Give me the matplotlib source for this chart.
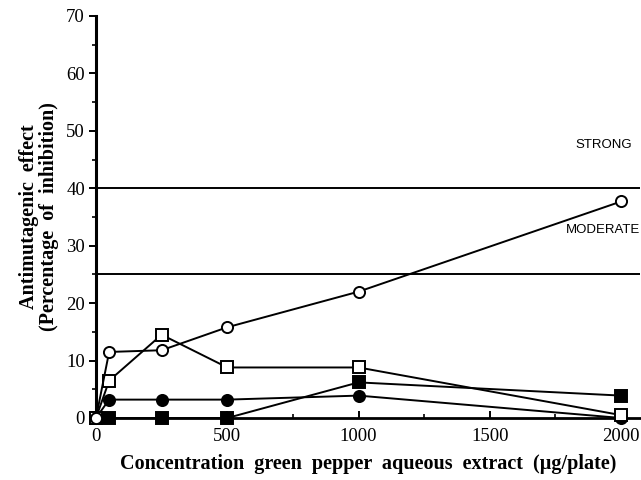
import matplotlib
matplotlib.use("Agg")
import matplotlib.pyplot as plt
from matplotlib.ticker import MultipleLocator

conc = [0, 50, 250, 500, 1000, 2000]
open_circle = [0, 11.5, 11.8, 15.8, 22.0, 37.7]
open_square = [0, 6.5, 14.5, 8.8, 8.8, 0.5]
filled_circle = [0, 3.2, 3.2, 3.2, 3.9, 0.0]
filled_square = [0, 0, 0, 0, 6.2, 3.9]
thresholds = [25, 40]

fig = plt.figure(figsize=(6.41, 4.8), dpi=100)
ax = fig.add_axes([96/641, 1-418/480, (640-96)/641, (418-16)/480])

serif = ["Liberation Serif", "DejaVu Serif"]
sans = ["Liberation Sans", "DejaVu Sans"]

for t in thresholds:
    ax.axhline(t, color="black", lw=1.4, zorder=1)

kw = dict(color="black", lw=1.4, markersize=8, markeredgewidth=1.4, clip_on=False)
ax.plot(conc, filled_square, marker="s", markerfacecolor="black", zorder=3, **kw)
ax.plot(conc, filled_circle, marker="o", markerfacecolor="black", zorder=3, **kw)
ax.plot(conc, open_square, marker="s", markerfacecolor="white", zorder=4, **kw)
ax.plot(conc, open_circle, marker="o", markerfacecolor="white", zorder=4, **kw)

ax.set_xlim(0, 2072)
ax.set_ylim(0, 70)
ax.spines["top"].set_visible(False)
ax.spines["right"].set_visible(False)
ax.spines["left"].set_linewidth(2.2)
ax.spines["bottom"].set_linewidth(2.0)

ax.xaxis.set_major_locator(MultipleLocator(500))
ax.xaxis.set_minor_locator(MultipleLocator(250))
ax.yaxis.set_major_locator(MultipleLocator(10))
ax.yaxis.set_minor_locator(MultipleLocator(5))
ax.tick_params(axis="x", which="major", direction="in", length=5, width=1.4, pad=7)
ax.tick_params(axis="x", which="minor", direction="in", length=3, width=1.2)
ax.tick_params(axis="y", which="major", direction="out", length=5, width=1.4, pad=3)
ax.tick_params(axis="y", which="minor", direction="out", length=3, width=1.2)
for lab in ax.get_xticklabels() + ax.get_yticklabels():
    lab.set_family(serif)
    lab.set_fontsize(13.5)

ax.text(2040, 47.5, "STRONG", family=sans, fontsize=9.5, ha="right", va="center")
ax.text(2072, 32.7, "MODERATE", family=sans, fontsize=9.5, ha="right", va="center")

ax.set_xlabel("Concentration  green  pepper  aqueous  extract  (\u00b5g/plate)",
              family=serif, fontweight="bold", fontsize=14.5, labelpad=7)
ax.set_ylabel("Antimutagenic  effect\n(Percentage  of  inhibition)",
              family=serif, fontweight="bold", fontsize=14.5, labelpad=5,
              linespacing=1.0)

fig.savefig("out.png", dpi=100)
